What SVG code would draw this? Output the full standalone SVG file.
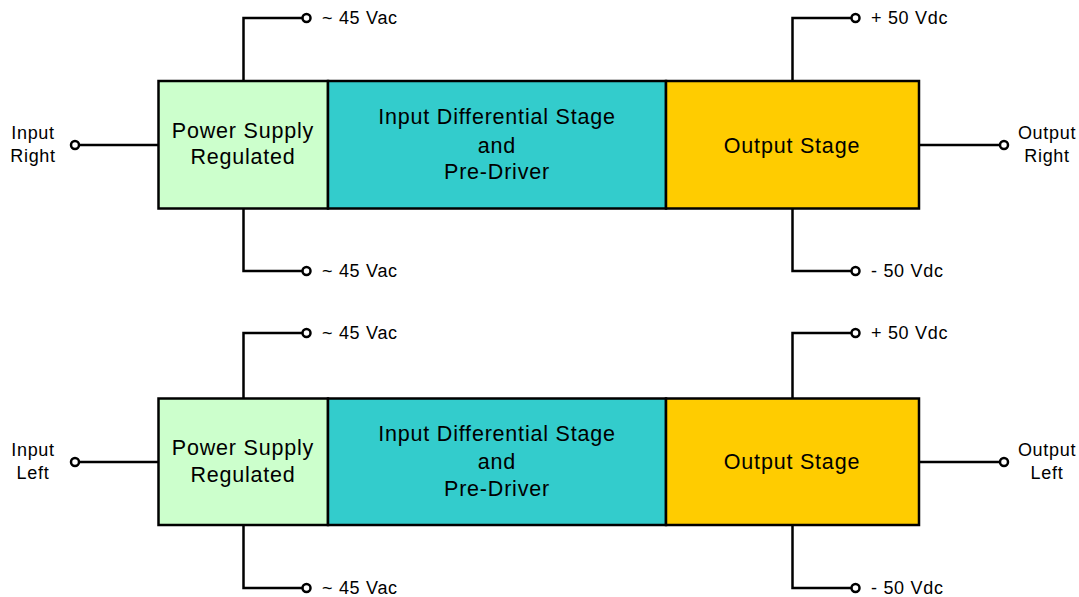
<svg xmlns="http://www.w3.org/2000/svg" width="1079" height="597" viewBox="0 0 1079 597">
<style>
.box{stroke:#000;stroke-width:2.5}
.w{fill:none;stroke:#000;stroke-width:2.5}
.t{fill:#fff;stroke:#000;stroke-width:2.5}
.lbl{font-family:"Liberation Sans",Arial,sans-serif;font-size:18px;letter-spacing:0.7px;fill:#000}
.big{font-family:"Liberation Sans",Arial,sans-serif;font-size:21.5px;letter-spacing:0.8px;fill:#000;text-anchor:middle}
.c{text-anchor:middle}
</style>
<rect width="1079" height="597" fill="#fff"/>
<g id="connectors">
  <path class="w" d="M243.5 81V18H302"/>
  <path class="w" d="M243.5 208V271H302"/>
  <path class="w" d="M792.5 81V18H851"/>
  <path class="w" d="M792.5 208V271H851"/>
  <path class="w" d="M158 145H79"/>
  <path class="w" d="M919 145H1000"/>
  <path class="w" d="M243.5 398V333H302"/>
  <path class="w" d="M243.5 525V588H302"/>
  <path class="w" d="M792.5 398V333H851"/>
  <path class="w" d="M792.5 525V588H851"/>
  <path class="w" d="M158 462H79"/>
  <path class="w" d="M919 462H1000"/>
</g>
<g id="terminals">
  <circle class="t" cx="306.5" cy="18" r="4"/>
  <circle class="t" cx="306.5" cy="271" r="4"/>
  <circle class="t" cx="855.5" cy="18" r="4"/>
  <circle class="t" cx="855.5" cy="271" r="4"/>
  <circle class="t" cx="75" cy="145" r="4"/>
  <circle class="t" cx="1004" cy="145" r="4"/>
  <circle class="t" cx="306.5" cy="333" r="4"/>
  <circle class="t" cx="306.5" cy="588" r="4"/>
  <circle class="t" cx="855.5" cy="333" r="4"/>
  <circle class="t" cx="855.5" cy="588" r="4"/>
  <circle class="t" cx="75" cy="462" r="4"/>
  <circle class="t" cx="1004" cy="462" r="4"/>
</g>
<g id="labels">
  <text class="lbl" x="322" y="24">~ 45 Vac</text>
  <text class="lbl" x="322" y="277">~ 45 Vac</text>
  <text class="lbl" x="871" y="24">+ 50 Vdc</text>
  <text class="lbl" x="871" y="277">- 50 Vdc</text>
  <text class="lbl c" x="33" y="139">Input</text>
  <text class="lbl c" x="33" y="162">Right</text>
  <text class="lbl c" x="1047" y="139">Output</text>
  <text class="lbl c" x="1047" y="162">Right</text>
  <text class="lbl" x="322" y="339">~ 45 Vac</text>
  <text class="lbl" x="322" y="594">~ 45 Vac</text>
  <text class="lbl" x="871" y="339">+ 50 Vdc</text>
  <text class="lbl" x="871" y="594">- 50 Vdc</text>
  <text class="lbl c" x="33" y="456">Input</text>
  <text class="lbl c" x="33" y="479">Left</text>
  <text class="lbl c" x="1047" y="456">Output</text>
  <text class="lbl c" x="1047" y="479">Left</text>
</g>
<g id="psu-right">
  <rect class="box" x="158.5" y="81" width="169.5" height="127.5" fill="#CCFFCC"/>
  <text class="big" x="243" y="138">Power Supply</text>
  <text class="big" x="243" y="164">Regulated</text>
</g>
<g id="diff-right">
  <rect class="box" x="328" y="81" width="338" height="127.5" fill="#33CCCC"/>
  <text class="big" x="497" y="124">Input Differential Stage</text>
  <text class="big" x="497" y="153">and</text>
  <text class="big" x="497" y="179">Pre-Driver</text>
</g>
<g id="out-right">
  <rect class="box" x="666" y="81" width="253" height="127.5" fill="#FFCC00"/>
  <text class="big" x="792" y="153">Output Stage</text>
</g>
<g id="psu-left">
  <rect class="box" x="158.5" y="398.5" width="169.5" height="126.5" fill="#CCFFCC"/>
  <text class="big" x="243" y="455">Power Supply</text>
  <text class="big" x="243" y="482">Regulated</text>
</g>
<g id="diff-left">
  <rect class="box" x="328" y="398.5" width="338" height="126.5" fill="#33CCCC"/>
  <text class="big" x="497" y="441">Input Differential Stage</text>
  <text class="big" x="497" y="469">and</text>
  <text class="big" x="497" y="496">Pre-Driver</text>
</g>
<g id="out-left">
  <rect class="box" x="666" y="398.5" width="253" height="126.5" fill="#FFCC00"/>
  <text class="big" x="792" y="469">Output Stage</text>
</g>
</svg>
